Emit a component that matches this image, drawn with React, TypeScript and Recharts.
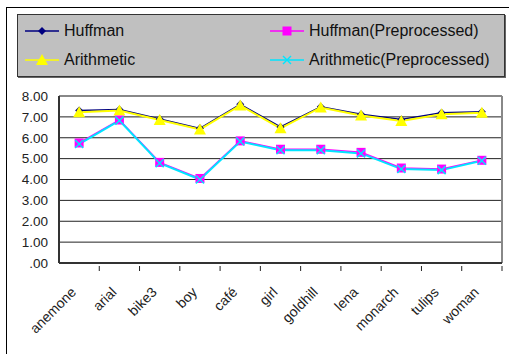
import { LineChart, Line, XAxis, YAxis, CartesianGrid, Legend } from "recharts";

const images = ["anemone", "arial", "bike3", "boy", "café", "girl", "goldhill", "lena", "monarch", "tulips", "woman"];
const huffman = [7.3, 7.35, 6.9, 6.45, 7.6, 6.52, 7.48, 7.13, 6.87, 7.2, 7.25];
const arithmetic = [7.22, 7.3, 6.85, 6.4, 7.55, 6.45, 7.45, 7.07, 6.8, 7.12, 7.2];
const huffmanPre = [5.75, 6.85, 4.82, 4.05, 5.85, 5.45, 5.45, 5.3, 4.55, 4.5, 4.92];
const arithmeticPre = [5.7, 6.82, 4.78, 4.0, 5.82, 5.4, 5.4, 5.25, 4.5, 4.45, 4.9];
const yTicks = [0, 1, 2, 3, 4, 5, 6, 7, 8];
const yMax = 8;

const data = images.map((name, i) => ({
  name,
  huffman: huffman[i],
  arithmetic: arithmetic[i],
  huffmanPre: huffmanPre[i],
  arithmeticPre: arithmeticPre[i],
}));

const W = 509;
const H = 354;
const margin = { top: 96, right: 7, bottom: 0, left: 0 };
const xAxisHeight = 91;
const yAxisWidth = 59;
const halfBand = (W - margin.right - yAxisWidth) / images.length / 2;
const font = "'Liberation Sans', Arial, sans-serif";

const Diamond = ({ cx, cy }: any) => (
  <polygon
    points={`${cx},${cy - 4} ${cx + 4},${cy} ${cx},${cy + 4} ${cx - 4},${cy}`}
    fill="#000080"
  />
);
const Triangle = ({ cx, cy }: any) => (
  <polygon
    points={`${cx},${cy - 6} ${cx + 6},${cy + 5} ${cx - 6},${cy + 5}`}
    fill="#ffff00"
  />
);
const Square = ({ cx, cy }: any) => (
  <rect x={cx - 4.5} y={cy - 4.5} width={9} height={9} fill="#ff00ff" />
);
const Cross = ({ cx, cy }: any) => (
  <g stroke="#00e5ff" strokeWidth={1.5}>
    <line x1={cx - 4} y1={cy - 4} x2={cx + 4} y2={cy + 4} />
    <line x1={cx - 4} y1={cy + 4} x2={cx + 4} y2={cy - 4} />
  </g>
);

const XTick = ({ x, y, payload }: any) => {
  const ax = x - 2;
  const ay = y + 22;
  return (
    <g>
      <line x1={x + halfBand} y1={y} x2={x + halfBand} y2={y - 5} stroke="#222" />
      <text
        x={ax}
        y={ay}
        textAnchor="end"
        fontSize={14}
        fontFamily={font}
        fill="#222"
        transform={`rotate(-45 ${ax} ${ay})`}
      >
        {payload.value}
      </text>
    </g>
  );
};

const legendItems = [
  { label: "Huffman", color: "#000080", mark: "diamond" },
  { label: "Huffman(Preprocessed)", color: "#ff00ff", mark: "square" },
  { label: "Arithmetic", color: "#ffff00", mark: "triangle" },
  { label: "Arithmetic(Preprocessed)", color: "#00e5ff", mark: "cross" },
];

const LegendMark = ({ color, mark }: { color: string; mark: string }) => (
  <svg width={34} height={14} style={{ marginRight: 5 }}>
    <line x1={0} y1={7} x2={34} y2={7} stroke={color} strokeWidth={1.5} />
    {mark === "diamond" && <Diamond cx={17} cy={7} />}
    {mark === "square" && <Square cx={17} cy={7} />}
    {mark === "triangle" && <Triangle cx={17} cy={7} />}
    {mark === "cross" && <Cross cx={17} cy={7} />}
  </svg>
);

const LegendBox = () => (
  <div
    style={{
      boxSizing: "border-box",
      width: 488,
      height: 63,
      background: "#c0c0c0",
      border: "1px solid #333",
      boxShadow: "1px 1px 0 #666",
      display: "grid",
      gridTemplateColumns: "245px 240px",
      gridTemplateRows: "29px 29px",
      paddingTop: 1,
      paddingLeft: 7,
      fontFamily: font,
      fontSize: 16,
      color: "#111",
    }}
  >
    {legendItems.map((it) => (
      <div key={it.label} style={{ display: "flex", alignItems: "center" }}>
        <LegendMark color={it.color} mark={it.mark} />
        <span>{it.label}</span>
      </div>
    ))}
  </div>
);

export default function App() {
  return (
    <div style={{ position: "absolute", left: 0, top: 0, width: W, height: H, background: "#fff", overflow: "hidden" }}>
      <div
        style={{
          position: "absolute",
          left: 6,
          top: 7,
          width: 520,
          height: 360,
          borderLeft: "1px solid #000",
          borderTop: "1px solid #000",
        }}
      />
      <LineChart width={W} height={H} data={data} margin={margin}>
        <CartesianGrid
          stroke="#222"
          vertical={false}
          horizontalCoordinatesGenerator={({ offset }: any) =>
            yTicks.slice(1, -1).map((t) => offset.top + offset.height * (1 - t / yMax))
          }
        />
        <CartesianGrid
          stroke="#888"
          strokeWidth={2}
          horizontal={false}
          verticalCoordinatesGenerator={({ offset }: any) => [offset.left + offset.width]}
        />
        <CartesianGrid
          stroke="#888"
          strokeWidth={2}
          vertical={false}
          horizontalCoordinatesGenerator={({ offset }: any) => [offset.top]}
        />
        <XAxis
          dataKey="name"
          interval={0}
          tickLine={false}
          padding={{ left: halfBand, right: halfBand }}
          axisLine={{ stroke: "#333", strokeWidth: 2 }}
          tick={<XTick />}
          height={xAxisHeight}
        />
        <YAxis
          width={yAxisWidth}
          domain={[0, yMax]}
          ticks={yTicks}
          interval={0}
          tickLine={false}
          tickSize={0}
          tickMargin={11}
          axisLine={{ stroke: "#333", strokeWidth: 2 }}
          tickFormatter={(v: number) => (v === 0 ? ".00" : v.toFixed(2))}
          tick={{ fill: "#222", fontSize: 13.5, fontFamily: font }}
        />
        <Legend
          layout="horizontal"
          verticalAlign="middle"
          align="center"
          wrapperStyle={{ top: 14, left: 17, width: 488, height: 63 }}
          content={<LegendBox />}
        />
        <Line dataKey="huffman" stroke="#000080" strokeWidth={1.5} dot={<Diamond />} activeDot={false} isAnimationActive={false} />
        <Line dataKey="arithmetic" stroke="#ffff00" strokeWidth={2} dot={<Triangle />} activeDot={false} isAnimationActive={false} />
        <Line dataKey="huffmanPre" stroke="#ff00ff" strokeWidth={1.5} dot={<Square />} activeDot={false} isAnimationActive={false} />
        <Line dataKey="arithmeticPre" stroke="#00e5ff" strokeWidth={2} dot={<Cross />} activeDot={false} isAnimationActive={false} />
      </LineChart>
    </div>
  );
}
